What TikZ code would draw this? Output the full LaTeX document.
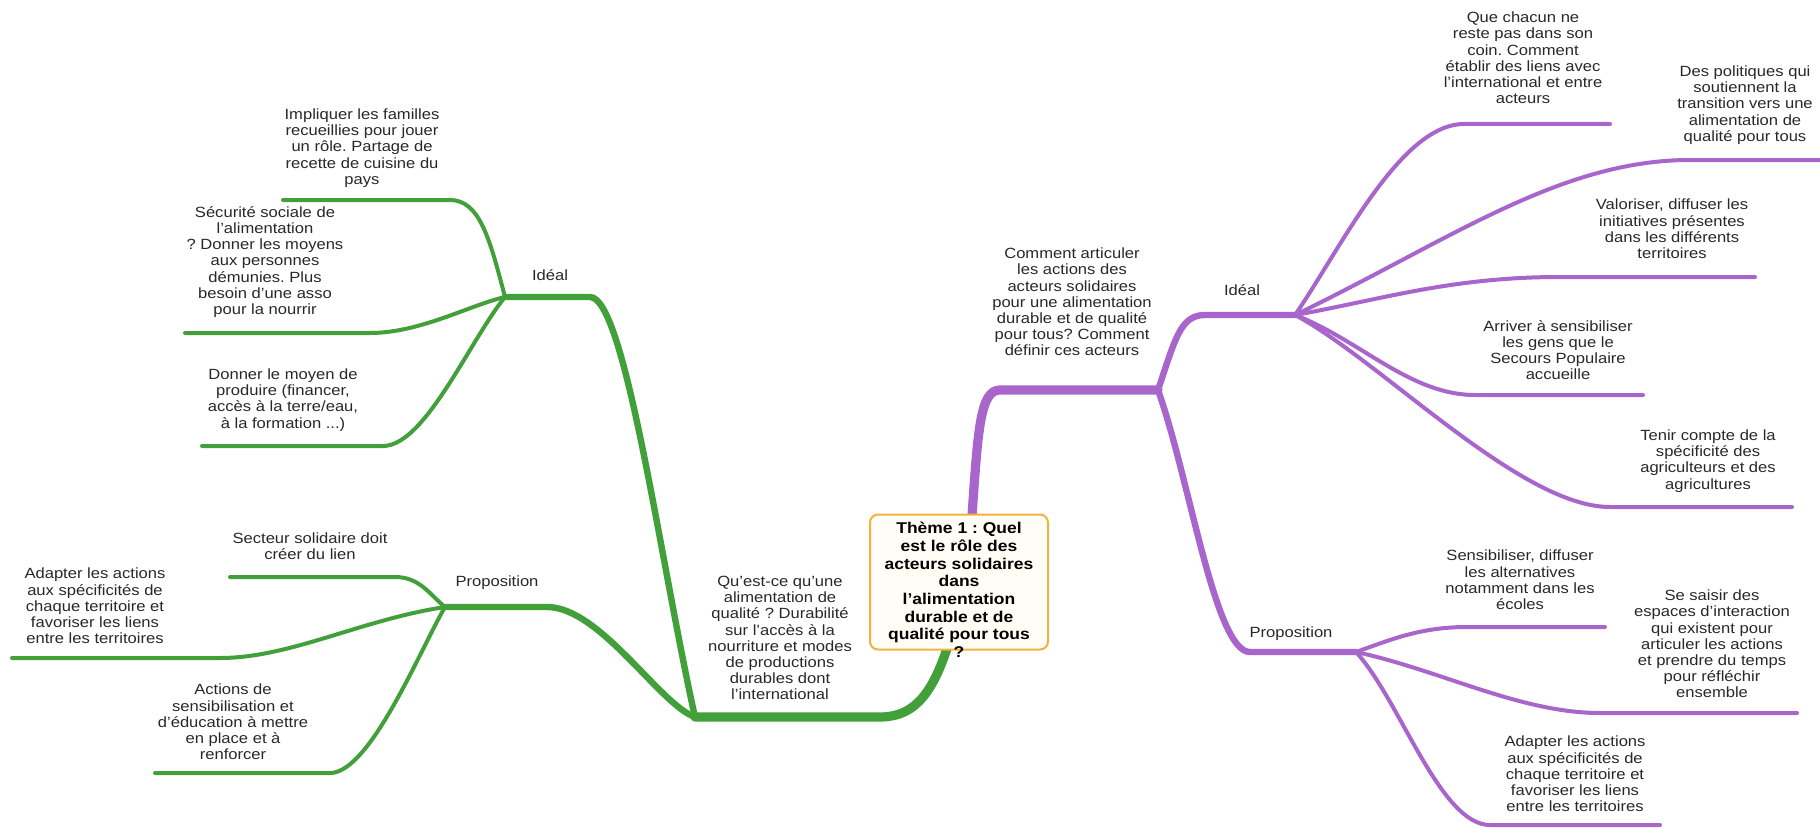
\documentclass[tikz,border=0pt]{standalone}
\usepackage{fontspec}
\setmainfont[FakeStretch=1.12]{Liberation Sans}
\frenchspacing
\usetikzlibrary{calc,backgrounds}
\definecolor{mmgreen}{RGB}{66,160,58}
\definecolor{mmpurple}{RGB}{168,102,204}
\definecolor{mmorange}{RGB}{242,178,62}
\definecolor{mmcream}{RGB}{255,254,246}
\definecolor{mmtext}{RGB}{40,40,40}
\tikzset{
  idea/.style={font=\fontsize{7.4}{8.1}\selectfont, align=center, text=mmtext, inner sep=0pt},
  rootbox/.style={draw=mmorange, fill=mmcream, line width=1pt, rounded corners=4pt, minimum width=89pt, minimum height=67.5pt, inner sep=0pt},
  roottext/.style={font=\fontsize{7.8}{8.85}\selectfont\bfseries, align=center, text=black, inner sep=0pt},
  gtrunk/.style={draw=mmgreen, line width=4.6pt, line cap=round},
  gmid/.style={draw=mmgreen, line width=3.2pt, line cap=round},
  gleaf/.style={draw=mmgreen, line width=2pt, line cap=round},
  ptrunk/.style={draw=mmpurple, line width=4.6pt, line cap=round},
  pmid/.style={draw=mmpurple, line width=3.2pt, line cap=round},
  pleaf/.style={draw=mmpurple, line width=2pt, line cap=round}
}
\begin{document}
\begin{tikzpicture}[x=0.5pt, y=-0.5pt]
\useasboundingbox (0,0) rectangle (1820,829);

\node[rootbox] (root) at (959,582) {};
\node[roottext] (roottxt) at (959,590) {Thème 1 : Quel\\est le rôle des\\acteurs solidaires\\dans\\l'alimentation\\durable et de\\qualité pour tous\\?};
\coordinate (groot) at ($(root.south)+(-12,-2)$);
\coordinate (proot) at ($(root.north)+(13,2)$);

% hubs
\coordinate (gsplit) at (695,717);
\coordinate (gideal) at (505,297);
\coordinate (gprop) at (445,607);
\coordinate (psplit) at (1158,390);
\coordinate (pideal) at (1295,315);
\coordinate (pprop) at (1356,652);

% leaf ends
\coordinate (g1) at (283,200);
\coordinate (g2) at (185,333);
\coordinate (g3) at (202,446);
\coordinate (g4) at (230,577);
\coordinate (g5) at (12,658);
\coordinate (g6) at (155,773);
\coordinate (p1) at (1610,124);
\coordinate (p2) at (1820,160);
\coordinate (p3) at (1755,277);
\coordinate (p4) at (1643,395);
\coordinate (p5) at (1792,507);
\coordinate (p6) at (1605,627);
\coordinate (p7) at (1797,713);
\coordinate (p8) at (1660,825);

\begin{pgfonlayer}{background}
\draw[gtrunk] (groot) .. controls (930,700) and (910,718) .. (877,717) -- (gsplit);
\draw[gmid] (gsplit) .. controls (660,560) and (625,297) .. (590,297) -- (gideal);
\draw[gmid] (gsplit) .. controls (660,705) and (600,607) .. (547,607) -- (gprop);
\draw[gleaf] (gideal) .. controls (490,240) and (480,200) .. (450,200) -- (g1);
\draw[gleaf] (gideal) .. controls (470,305) and (420,333) .. (370,333) -- (g2);
\draw[gleaf] (gideal) .. controls (470,340) and (425,446) .. (383,446) -- (g3);
\draw[gleaf] (gprop) .. controls (430,595) and (420,577) .. (395,577) -- (g4);
\draw[gleaf] (gprop) .. controls (360,620) and (290,658) .. (220,658) -- (g5);
\draw[gleaf] (gprop) .. controls (420,650) and (370,773) .. (330,773) -- (g6);

\draw[ptrunk] (proot) .. controls (978,430) and (980,390) .. (1000,390) -- (psplit);
\draw[pmid] (psplit) .. controls (1175,340) and (1180,315) .. (1205,315) -- (pideal);
\draw[pmid] (psplit) .. controls (1190,480) and (1215,652) .. (1250,652) -- (pprop);
\draw[pleaf] (pideal) .. controls (1340,250) and (1400,124) .. (1464,124) -- (p1);
\draw[pleaf] (pideal) .. controls (1450,240) and (1560,160) .. (1690,160) -- (p2);
\draw[pleaf] (pideal) .. controls (1380,300) and (1450,277) .. (1560,277) -- (p3);
\draw[pleaf] (pideal) .. controls (1360,340) and (1410,395) .. (1475,395) -- (p4);
\draw[pleaf] (pideal) .. controls (1380,360) and (1520,507) .. (1610,507) -- (p5);
\draw[pleaf] (pprop) .. controls (1390,640) and (1420,627) .. (1467,627) -- (p6);
\draw[pleaf] (pprop) .. controls (1440,670) and (1520,713) .. (1600,713) -- (p7);
\draw[pleaf] (pprop) .. controls (1400,700) and (1440,825) .. (1490,825) -- (p8);
\end{pgfonlayer}

\node[idea] (gq) at (780,638) {Qu'est-ce qu'une\\alimentation de\\qualité ? Durabilité\\sur l'accès à la\\nourriture et modes\\de productions\\durables dont\\l'international};
\node[idea] (gidlbl) at (550,275) {Idéal};
\node[idea] (gprlbl) at (497,583) {Proposition};
\node[idea] (gt1) at (362,148) {Impliquer les familles\\recueillies pour jouer\\un rôle. Partage de\\recette de cuisine du\\pays};
\node[idea] (gt2) at (265,262) {Sécurité sociale de\\l'alimentation\\? Donner les moyens\\aux personnes\\démunies. Plus\\besoin d'une asso\\pour la nourrir};
\node[idea] (gt3) at (283,400) {Donner le moyen de\\produire (financer,\\accès à la terre/eau,\\à la formation ...)};
\node[idea] (gt4) at (310,546) {Secteur solidaire doit\\créer du lien};
\node[idea] (gt5) at (95,606) {Adapter les actions\\aux spécificités de\\chaque territoire et\\favoriser les liens\\entre les territoires};
\node[idea] (gt6) at (233,722) {Actions de\\sensibilisation et\\d'éducation à mettre\\en place et à\\renforcer};

\node[idea] (pq) at (1072,302) {Comment articuler\\les actions des\\acteurs solidaires\\pour une alimentation\\durable et de qualité\\pour tous? Comment\\définir ces acteurs};
\node[idea] (pidlbl) at (1242,290) {Idéal};
\node[idea] (pprlbl) at (1291,634) {Proposition};
\node[idea] (pt1) at (1523,58) {Que chacun ne\\reste pas dans son\\coin. Comment\\établir des liens avec\\l'international et entre\\acteurs};
\node[idea] (pt2) at (1745,105) {Des politiques qui\\soutiennent la\\transition vers une\\alimentation de\\qualité pour tous};
\node[idea] (pt3) at (1672,229) {Valoriser, diffuser les\\initiatives présentes\\dans les différents\\territoires};
\node[idea] (pt4) at (1558,350) {Arriver à sensibiliser\\les gens que le\\Secours Populaire\\accueille};
\node[idea] (pt5) at (1708,461) {Tenir compte de la\\spécificité des\\agriculteurs et des\\agricultures};
\node[idea] (pt6) at (1520,580) {Sensibiliser, diffuser\\les alternatives\\notamment dans les\\écoles};
\node[idea] (pt7) at (1712,644) {Se saisir des\\espaces d'interaction\\qui existent pour\\articuler les actions\\et prendre du temps\\pour réfléchir\\ensemble};
\node[idea] (pt8) at (1575,774) {Adapter les actions\\aux spécificités de\\chaque territoire et\\favoriser les liens\\entre les territoires};
\end{tikzpicture}
\end{document}
